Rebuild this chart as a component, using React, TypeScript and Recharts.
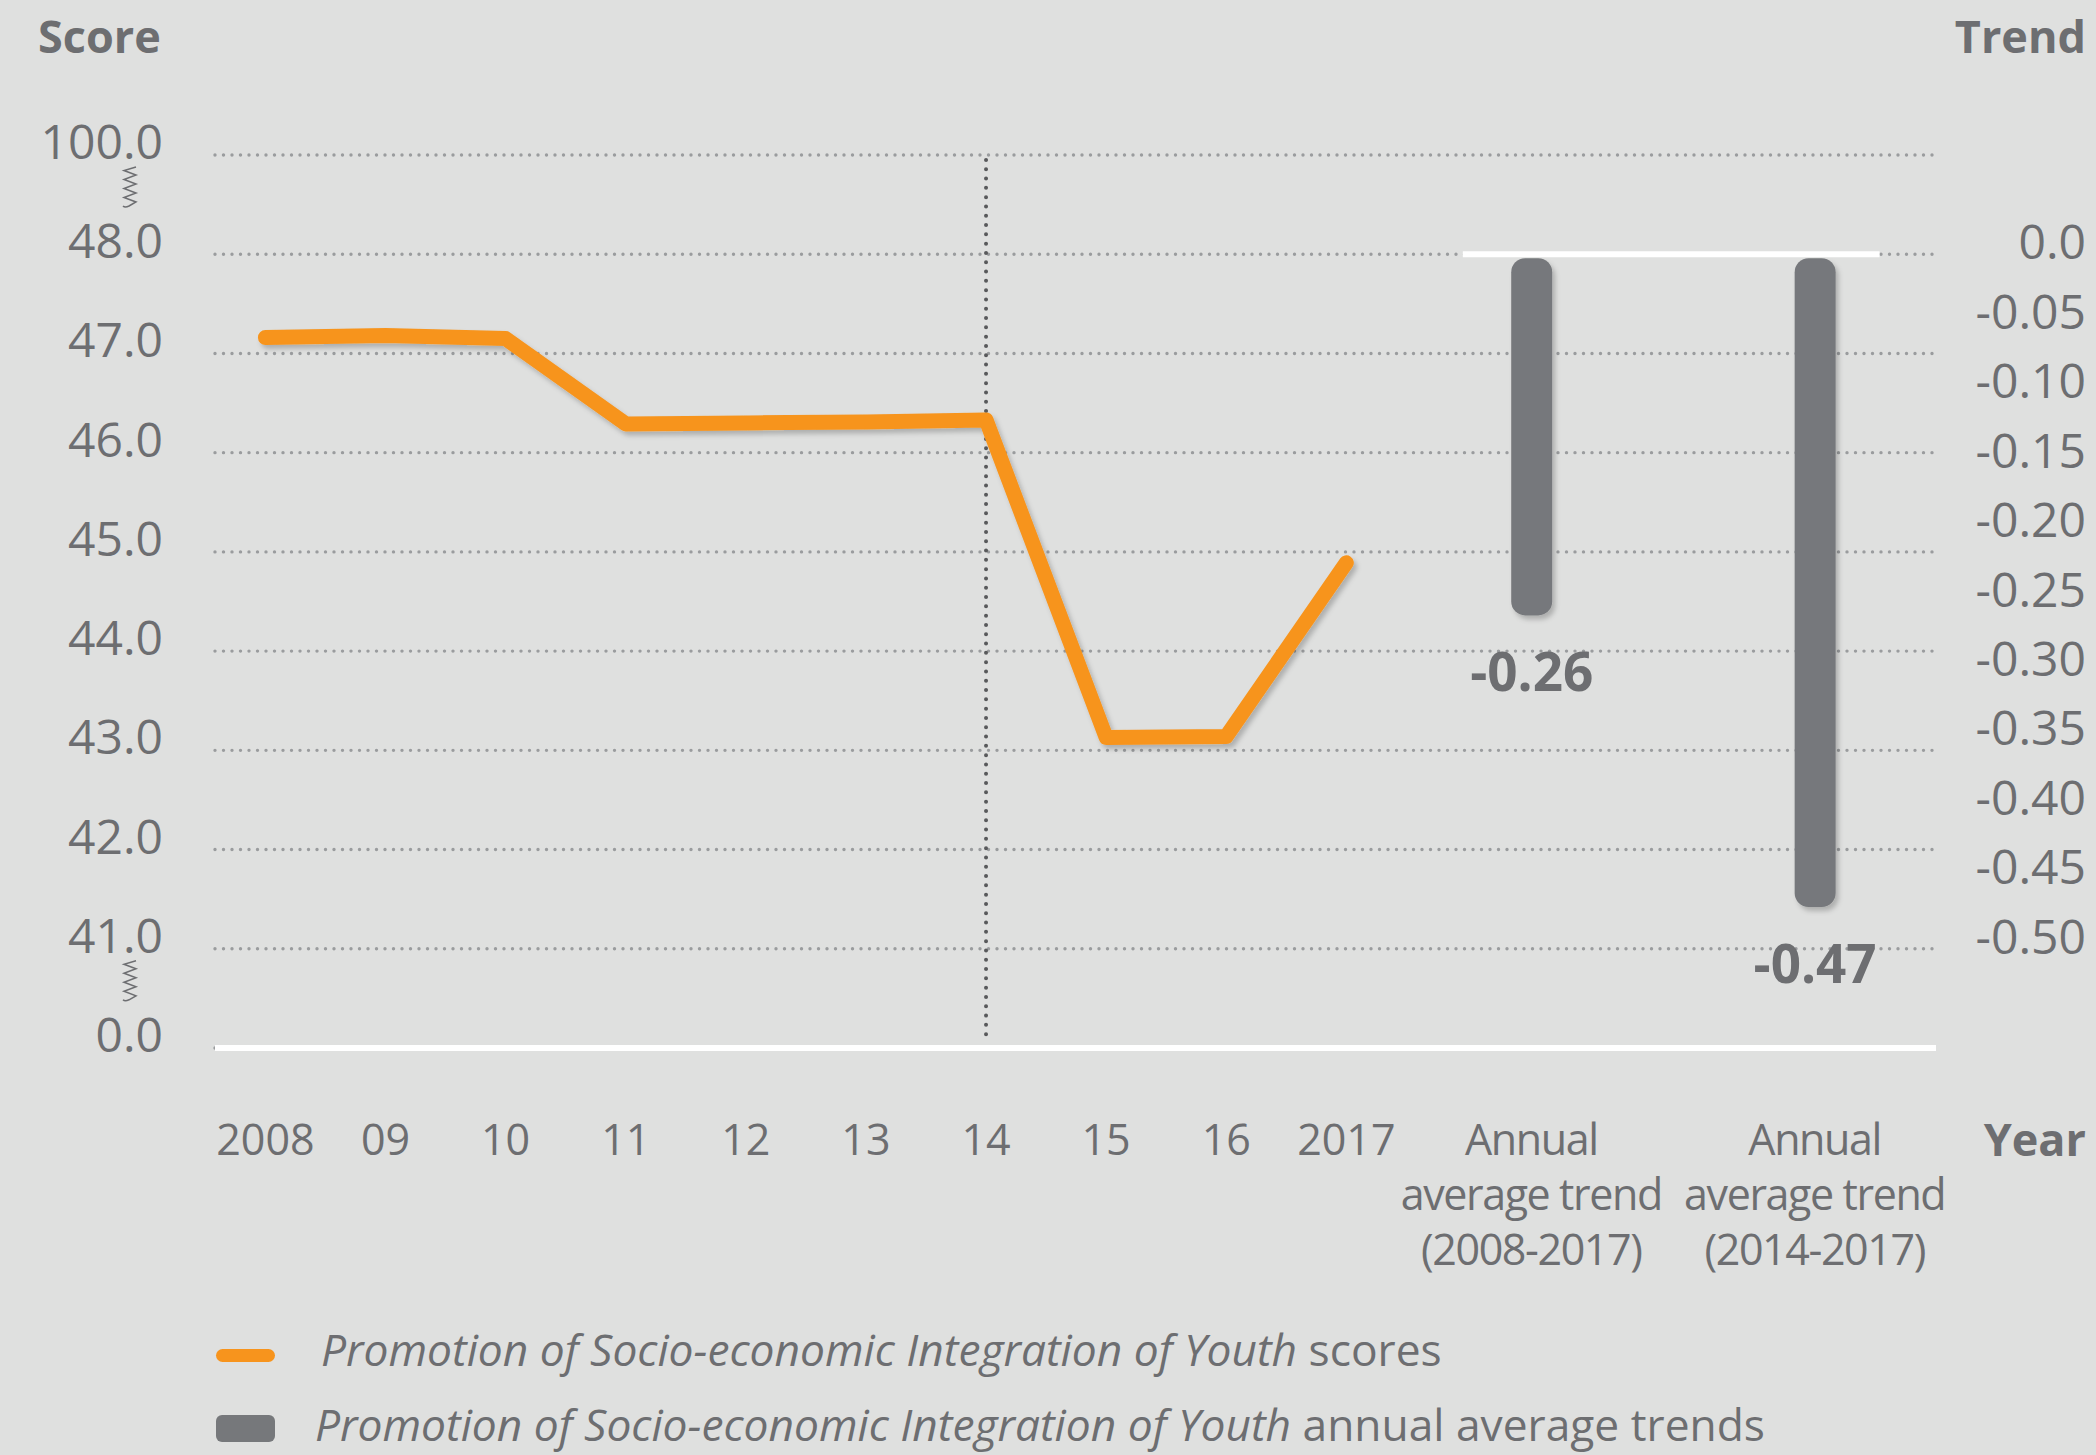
import React from 'react';
import { ComposedChart, Line, Bar, XAxis, YAxis, CartesianGrid, ReferenceLine, LabelList } from 'recharts';

// ---------- data ----------
const years = ['2008', '09', '10', '11', '12', '13', '14', '15', '16', '2017'];
const scores = [47.16, 47.18, 47.15, 46.29, 46.3, 46.31, 46.33, 43.13, 43.14, 44.89];
const trendLabels = [
  ['Annual', 'average trend', '(2008-2017)'],
  ['Annual', 'average trend', '(2014-2017)'],
];
const trends = [-0.26, -0.47];
const trendSlots = [10.54, 12.9];
const scoreTicks = [40, 41, 42, 43, 44, 45, 46, 47, 48, 49];
const scoreTickLabels = ['0.0', '41.0', '42.0', '43.0', '44.0', '45.0', '46.0', '47.0', '48.0', '100.0'];
const trendTicks = [0, -0.05, -0.1, -0.15, -0.2, -0.25, -0.3, -0.35, -0.4, -0.45, -0.5];
const trendTickLabels = ['0.0', '-0.05', '-0.10', '-0.15', '-0.20', '-0.25', '-0.30', '-0.35', '-0.40', '-0.45', '-0.50'];
const breakTicks = [49, 41];
const markerYear = '14';

// ---------- styles ----------
const BG = '#dfe0df';
const TEXT = '#6d6e71';
const ORANGE = '#f7941d';
const BAR = '#76787b';
const GRID = '#9a9c9e';
const VLINE = '#58595b';
const FONT = "'Open Sans', 'DejaVu Sans', sans-serif";

type Row = { slot: number; label: string[]; score?: number; trend?: number };
const rows: Row[] = [
  ...years.map((y, i) => ({ slot: i, label: [y], score: scores[i] })),
  ...trendLabels.map((l, i) => ({ slot: trendSlots[i], label: l, trend: trends[i] })),
];

const labelFor = (v: number) => {
  const r = rows.find((row) => Math.abs(row.slot - v) < 1e-6);
  return r ? r.label : [];
};

const XTick = (p: any) => {
  const lines = labelFor(p.payload.value);
  const multi = lines.length > 1;
  return (
    <text
      x={p.x}
      y={p.y}
      textAnchor="middle"
      fill={TEXT}
      fontSize={43}
      fontFamily={FONT}
      letterSpacing={multi ? -1.4 : 0}
    >
      {lines.map((l, i) => (
        <tspan key={i} x={p.x} y={p.y + 107 + i * 55}>
          {l}
        </tspan>
      ))}
    </text>
  );
};

const Zigzag = ({ cx, y }: { cx: number; y: number }) => (
  <path
    d={`M ${cx + 6} ${y} l -12 3.5 l 12 4.5 l -12 4.5 l 12 4.5 l -12 4.5 l 12 4.5 l -12 4.5 l 12 4.5 l -7 4 q -4 2 -6 0`}
    fill="none"
    stroke={TEXT}
    strokeWidth={1.5}
  />
);

const ScoreTick = (p: any) => {
  const v = p.payload.value;
  const i = scoreTicks.indexOf(v);
  return (
    <g>
      <text x={p.x} y={p.y + 4} textAnchor="end" fill={TEXT} fontSize={48} fontFamily={FONT}>
        {scoreTickLabels[i]}
      </text>
      {breakTicks.includes(v) && <Zigzag cx={p.x - 33} y={p.y + 12} />}
    </g>
  );
};

const TrendTick = (p: any) => {
  const v = p.payload.value;
  const i = trendTicks.findIndex((t) => Math.abs(t - v) < 1e-9);
  return (
    <text x={p.x + 150} y={p.y + 5} textAnchor="end" fill={TEXT} fontSize={48} fontFamily={FONT}>
      {trendTickLabels[i]}
    </text>
  );
};

const GridLine = (p: any) => (
  <line
    key={`g-${p.index}-${p.y1}`}
    x1={p.x1}
    y1={p.y1}
    x2={p.x2}
    y2={p.y2}
    stroke={GRID}
    strokeWidth={3.4}
    strokeDasharray="0 8.5"
    strokeLinecap="round"
  />
);

const TrendBar = (p: any) => {
  if (p.payload == null || p.payload.trend == null) return null;
  const top = Math.min(p.y, p.y + p.height);
  const h = Math.abs(p.height);
  const gap = 4;
  return (
    <rect x={p.x} y={top + gap} width={p.width} height={Math.max(0, h - gap)} rx={14} fill={BAR} filter="url(#softShadow)" />
  );
};

const TrendLabel = (p: any) => {
  if (p.value == null) return null;
  const bottom = Math.max(p.y, p.y + p.height);
  return (
    <text
      x={p.x + p.width / 2}
      y={bottom + 76}
      textAnchor="middle"
      fill={TEXT}
      fontSize={53}
      fontWeight={700}
      fontFamily={FONT}
    >
      {Number(p.value).toFixed(2)}
    </text>
  );
};

export default function App() {
  const markerSlot = years.indexOf(markerYear);
  return (
    <div style={{ position: 'absolute', left: 0, top: 0, width: 2096, height: 1455, background: BG, overflow: 'hidden' }}>
      <ComposedChart width={2096} height={1455} data={rows} margin={{ top: 155, right: 0, bottom: 0, left: 0 }}>
        <defs>
          <filter id="softShadow" filterUnits="userSpaceOnUse" x={0} y={0} width={2096} height={1455}>
            <feDropShadow dx={3} dy={4} stdDeviation={2.5} floodColor="#000" floodOpacity={0.22} />
          </filter>
        </defs>
        <CartesianGrid yAxisId="score" vertical={false} horizontal={GridLine} />
        <XAxis
          dataKey="slot"
          type="number"
          domain={[-0.42, 13.91]}
          allowDataOverflow
          ticks={rows.map((r) => r.slot)}
          interval={0}
          tick={XTick}
          axisLine={false}
          tickLine={false}
          tickSize={0}
          tickMargin={0}
          height={407}
        />
        <YAxis
          yAxisId="score"
          type="number"
          domain={[40, 49]}
          ticks={scoreTicks}
          allowDataOverflow
          interval={0}
          width={215}
          tick={ScoreTick}
          axisLine={false}
          tickLine={false}
          tickSize={0}
          tickMargin={52}
        />
        <YAxis
          yAxisId="trend"
          orientation="right"
          type="number"
          domain={[-4 / 7, 1 / 14]}
          ticks={trendTicks}
          allowDataOverflow
          interval={0}
          width={160}
          tick={TrendTick}
          axisLine={false}
          tickLine={false}
          tickSize={0}
          tickMargin={0}
        />
        <ReferenceLine
          yAxisId="score"
          segment={[
            { x: markerSlot, y: 48.95 },
            { x: markerSlot, y: 40.12 },
          ]}
          stroke={VLINE}
          strokeWidth={4}
          strokeDasharray="0 9.3"
          strokeLinecap="round"
        />
        <ReferenceLine yAxisId="score" y={40} stroke="#ffffff" strokeWidth={6} />
        <ReferenceLine
          yAxisId="trend"
          segment={[
            { x: trendSlots[0] - 0.57, y: 0 },
            { x: trendSlots[1] + 0.54, y: 0 },
          ]}
          stroke="#ffffff"
          strokeWidth={6}
        />
        <Bar yAxisId="trend" dataKey="trend" barSize={41} shape={TrendBar} isAnimationActive={false}>
          <LabelList dataKey="trend" content={TrendLabel} />
        </Bar>
        <Line
          yAxisId="score"
          dataKey="score"
          stroke={ORANGE}
          strokeWidth={15}
          strokeLinecap="round"
          strokeLinejoin="round"
          dot={false}
          activeDot={false}
          filter="url(#softShadow)"
          isAnimationActive={false}
        />
        <text x={38} y={53} fill={TEXT} fontSize={45} fontWeight={700} fontFamily={FONT}>
          Score
        </text>
        <text x={2086} y={53} textAnchor="end" fill={TEXT} fontSize={45} fontWeight={700} fontFamily={FONT}>
          Trend
        </text>
        <text x={2086} y={1156} textAnchor="end" fill={TEXT} fontSize={45} fontWeight={700} fontFamily={FONT}>
          Year
        </text>
        <g fontFamily={FONT} fontSize={44.3} fill={TEXT}>
          <rect x={216} y={1349} width={59} height={13} rx={6.5} fill={ORANGE} />
          <text x={321} y={1366}>
            <tspan fontStyle="italic">Promotion of Socio-economic Integration of Youth</tspan> scores
          </text>
          <rect x={216} y={1415} width={59} height={27} rx={6} fill={BAR} />
          <text x={315} y={1441}>
            <tspan fontStyle="italic">Promotion of Socio-economic Integration of Youth</tspan> annual average trends
          </text>
        </g>
      </ComposedChart>
    </div>
  );
}
